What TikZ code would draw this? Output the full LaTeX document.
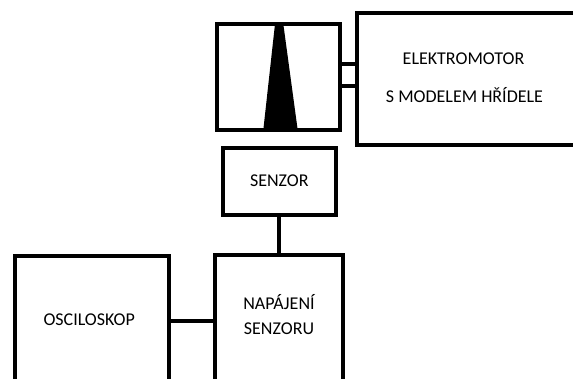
\documentclass[tikz,border=0pt]{standalone}
\usepackage{fontspec}
\setmainfont{Carlito}
\begin{document}
\begin{tikzpicture}[x=1pt,y=-1pt,
  box/.style={draw=black,line width=4pt,rectangle,inner sep=0pt,outer sep=0pt,fill=none},
  lbl/.style={anchor=base,inner sep=0pt,font=\fontsize{18}{20}\selectfont},
  conn/.style={draw=black,line width=4pt}]
\useasboundingbox (0,0) rectangle (573,378);
\clip (0,0) rectangle (573,378);
% boxes
\node[box,minimum width=122.7pt,minimum height=106.3pt] (disc) at (278.35,76.85) {};
\node[box,minimum width=243pt,minimum height=132.6pt] (motor) at (478.5,79) {};
\node[box,minimum width=17.3pt,minimum height=22.3pt] (shaft) at (348.35,74.85) {};
\node[box,minimum width=112.5pt,minimum height=66.7pt] (senzor) at (279.25,181.35) {};
\node[box,minimum width=128pt,minimum height=145.3pt] (napajeni) at (279,327.35) {};
\node[box,minimum width=154pt,minimum height=143.7pt] (osc) at (91.7,328.15) {};
% disc
\fill[black] (275,24) -- (283.3,24) -- (297.7,130) -- (263.3,130) -- cycle;
% connectors
\coordinate (hline) at (190,321.3);
\draw[conn] (senzor.south) -- (senzor.south |- napajeni.north);
\draw[conn] (osc.east |- hline) -- (napajeni.west |- hline);
% labels
\node[lbl] (t1) at (463.5,64) {ELEKTROMOTOR};
\node[lbl] (t2) at (464.5,102.3) {S MODELEM HŘÍDELE};
\node[lbl] (t3) at (279.3,186.7) {SENZOR};
\node[lbl] (t4) at (279,309.3) {NAPÁJENÍ};
\node[lbl] (t5) at (279,334) {SENZORU};
\node[lbl] (t6) at (89.2,325.3) {OSCILOSKOP};
\end{tikzpicture}
\end{document}
